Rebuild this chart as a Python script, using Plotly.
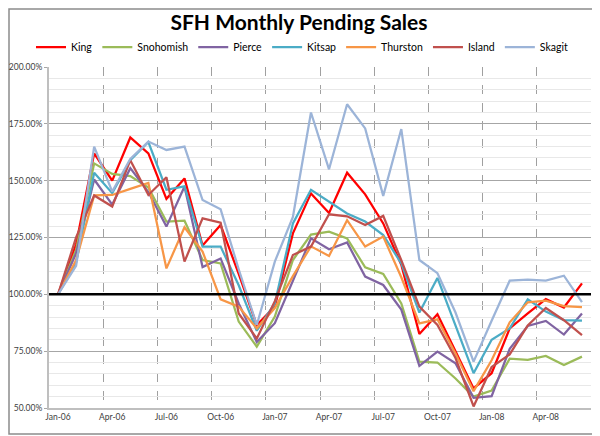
import plotly.graph_objects as go

months = ["Jan-06", "Feb-06", "Mar-06", "Apr-06", "May-06", "Jun-06", "Jul-06", "Aug-06", "Sep-06", "Oct-06",
          "Nov-06", "Dec-06", "Jan-07", "Feb-07", "Mar-07", "Apr-07", "May-07", "Jun-07", "Jul-07", "Aug-07",
          "Sep-07", "Oct-07", "Nov-07", "Dec-07", "Jan-08", "Feb-08", "Mar-08", "Apr-08", "May-08", "Jun-08"]

king = [100, 122, 162, 150, 169, 162, 142, 151, 121.5, 130.5, 109, 86.5, 94.6, 126.8, 144.4, 135.8, 153.5, 144,
        131.2, 113, 82.6, 91.2, 75, 58.6, 65.3, 85, 91.6, 97.9, 94.2, 104.8]
snohomish = [100, 119.5, 157.6, 153, 152, 147, 132, 132.4, 115.1, 113.6, 88, 77, 90.2, 115.1, 126.3, 127.6, 124.6,
             111.9, 109, 96, 70.4, 70, 63, 55, 57.7, 71.7, 71.2, 72.9, 68.9, 72.6]
pierce = [100, 118, 150.5, 139.5, 155.5, 145, 129.8, 147.4, 112, 115.8, 96, 79, 87.3, 106, 124.6, 119.8, 122.8,
          107.8, 104.1, 93.3, 68.5, 74.8, 69.7, 54.5, 55.2, 76, 86.1, 88.3, 82.3, 91.6]
kitsap = [100, 114, 153.5, 144.5, 159, 167, 146, 147.5, 121, 121, 104, 84, 96, 131.2, 146, 140.8, 135.6, 132,
          126.1, 113.6, 92, 107.2, 86, 65.3, 80, 85, 97.8, 92.4, 88.7, 88.4]
thurston = [100, 115, 143.5, 143.7, 146.4, 149, 111.4, 129.5, 118.8, 97.8, 94.6, 85, 94, 108, 121.1, 116.9, 132.6,
            121, 125.4, 107.5, 87.2, 89, 74, 57.4, 71, 87.7, 96.5, 97.2, 94.8, 94.4]
island = [100, 125, 143.5, 138.6, 159, 143.7, 151.5, 114.4, 133.4, 131.5, 91.6, 80.6, 97, 117.3, 121, 135.2, 134.3,
          130.5, 134.5, 115, 94.6, 86.5, 72, 50.7, 68, 73.6, 86.3, 94, 88.6, 82.1]
skagit = [100, 112.5, 165, 145.2, 159.6, 167.2, 163.5, 165, 141.5, 137.4, 111, 86.5, 114.4, 134, 180, 155, 183.6,
          173, 143.3, 172.7, 115.1, 109.3, 92, 70.4, 88.4, 106, 106.5, 106, 108.2, 96.6]

series_names = ["King", "Snohomish", "Pierce", "Kitsap", "Thurston", "Island", "Skagit"]
series_values = [king, snohomish, pierce, kitsap, thurston, island, skagit]
colors = ["#FF0000", "#9BBB59", "#8064A2", "#4BACC6", "#F79646", "#C0504D", "#9CB4D8"]

x = list(range(len(months)))

fig = go.Figure()
for name, vals, col in zip(series_names, series_values, colors):
    fig.add_trace(go.Scatter(x=x, y=vals, mode="lines", name=name,
                             line=dict(color=col, width=2.25)))

fig.add_hline(y=100, line=dict(color="black", width=2.5))

# outer chart border (page has an 8px body margin; plot area spans 49..591 x 67..408 on screen)
fig.add_shape(type="rect", xref="paper", yref="paper",
              x0=(9 - 49) / 542, x1=(597.5 - 49) / 542,
              y0=(408 - 434) / 341, y1=(408 - 9) / 341,
              line=dict(color="#8c8c8c", width=1.5), layer="below")

font_family = "Lato, Open Sans, sans-serif"

W, H = 592, 428
fig.update_layout(
    width=W, height=H,
    margin=dict(l=41, r=9, t=59, b=28, autoexpand=False),
    paper_bgcolor="white", plot_bgcolor="white",
    font=dict(family=font_family, color="#333333"),
    title=dict(text="<b>SFH Monthly Pending Sales</b>", x=(299 - 8) / W, xref="container", xanchor="center",
               y=1 - (23 - 8) / H, yref="container", yanchor="middle", automargin=False,
               font=dict(family=font_family, size=21, color="black")),
    legend=dict(orientation="h", xref="container", x=(302 - 8) / W, xanchor="center",
                yref="container", y=1 - (47 - 8) / H, yanchor="middle",
                font=dict(family=font_family, size=10.5, color="black"),
                itemwidth=30, traceorder="normal"),
    showlegend=True,
)

fig.update_xaxes(
    range=[-0.5, 29.5],
    tickmode="array", tickvals=x[::3], ticktext=months[::3],
    showgrid=False, zeroline=False, automargin=False,
    showline=True, linecolor="#bfbfbf", linewidth=2,
    ticks="", tickfont=dict(size=8.5, color="#404040"),
    minor=dict(tick0=2.5, dtick=3, showgrid=True, gridcolor="#a0a0a0", griddash="dash", gridwidth=1),
)
fig.update_yaxes(
    range=[50, 200], tickmode="linear", tick0=50, dtick=25,
    tickformat=".2f", ticksuffix="%", automargin=False,
    showgrid=True, gridcolor="#a6a6a6", gridwidth=1, zeroline=False,
    showline=True, linecolor="#bfbfbf", linewidth=2,
    ticks="outside", ticklen=3, tickcolor="#a6a6a6",
    tickfont=dict(size=8.5, color="#404040"),
    minor=dict(dtick=5, showgrid=True, gridcolor="#e8e8e8", gridwidth=1),
)

fig.write_html("out.html")
